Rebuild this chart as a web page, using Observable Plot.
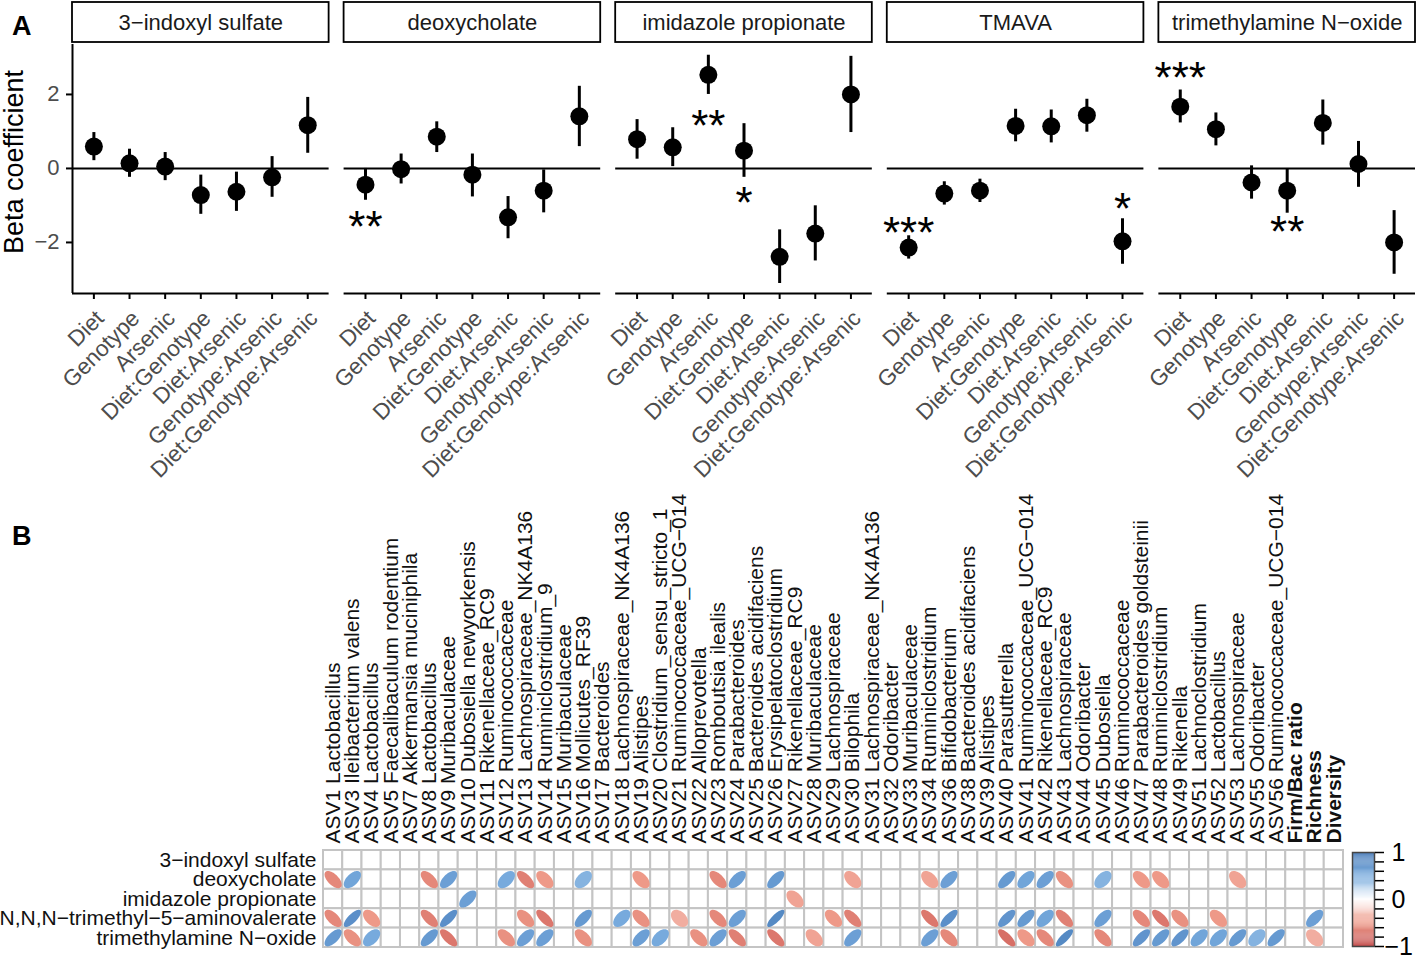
<!DOCTYPE html>
<html><head><meta charset="utf-8">
<script src="https://cdn.jsdelivr.net/npm/d3@7"></script>
<script src="https://cdn.jsdelivr.net/npm/@observablehq/plot@0.6"></script>
<style>
body{margin:0;background:#fff;font-family:"Liberation Sans",Arial,Helvetica,sans-serif;}
#wrap{position:relative;width:1417px;height:959px;overflow:hidden;background:#fff;}
.abs{position:absolute;}
.tag{position:absolute;font-weight:bold;font-size:27px;line-height:27px;color:#000;}
</style></head><body>
<div id="wrap">
  <div id="a" class="abs" style="left:0;top:0;width:1417px"></div>
  <div id="b" class="abs" style="left:0;top:480px;width:1417px"></div>
  <div id="cb" class="abs" style="left:1338px;top:839px;width:79px"></div>
  <div class="tag" style="left:12px;top:13px">A</div>
  <div class="tag" style="left:12px;top:523px">B</div>
</div>
<script>
// ---------------- Panel A data ----------------
const metabolites = ["3−indoxyl sulfate", "deoxycholate", "imidazole propionate", "TMAVA", "trimethylamine N−oxide"];
const terms = ["Diet", "Genotype", "Arsenic", "Diet:Genotype", "Diet:Arsenic", "Genotype:Arsenic", "Diet:Genotype:Arsenic"];

const estIndoxyl = [0.59, 0.14, 0.05, -0.72, -0.63, -0.24, 1.17];
const lowIndoxyl = [0.21, -0.24, -0.33, -1.24, -1.16, -0.78, 0.41];
const highIndoxyl = [0.97, 0.52, 0.43, -0.18, -0.10, 0.32, 1.92];

const estDeoxy = [-0.44, -0.02, 0.86, -0.17, -1.32, -0.60, 1.41];
const lowDeoxy = [-0.86, -0.42, 0.43, -0.77, -1.90, -1.20, 0.59];
const highDeoxy = [0.00, 0.39, 1.26, 0.39, -0.76, -0.04, 2.22];

const estImid = [0.79, 0.57, 2.53, 0.48, -2.39, -1.76, 2.00];
const lowImid = [0.25, 0.05, 2.00, -0.24, -3.11, -2.50, 0.97];
const highImid = [1.32, 1.10, 3.06, 1.21, -1.66, -1.01, 3.03];

const estTmava = [-2.14, -0.68, -0.60, 1.15, 1.14, 1.44, -1.97];
const lowTmava = [-2.45, -0.99, -0.92, 0.72, 0.69, 0.98, -2.59];
const highTmava = [-1.82, -0.36, -0.29, 1.60, 1.58, 1.87, -1.36];

const estTmao = [1.67, 1.06, -0.38, -0.60, 1.23, 0.12, -2.00];
const lowTmao = [1.23, 0.61, -0.83, -1.21, 0.63, -0.51, -2.86];
const highTmao = [2.12, 1.50, 0.07, -0.02, 1.85, 0.73, -1.14];

const starMetabolite = ["deoxycholate", "imidazole propionate", "imidazole propionate", "TMAVA", "TMAVA", "trimethylamine N−oxide", "trimethylamine N−oxide"];
const starTerm = ["Diet", "Arsenic", "Diet:Genotype", "Diet", "Diet:Genotype:Arsenic", "Diet", "Diet:Genotype"];
const starLabel = ["**", "**", "*", "***", "*", "***", "**"];
const starY = [-1.41, 1.30, -0.77, -1.58, -0.93, 2.62, -1.54];

// ---------------- Panel B data ----------------
const rowNames = ["3−indoxyl sulfate", "deoxycholate", "imidazole propionate", "N,N,N−trimethyl−5−aminovalerate", "trimethylamine N−oxide"];
const asvIds = ["ASV1","ASV3","ASV4","ASV5","ASV7","ASV8","ASV9","ASV10","ASV11","ASV12","ASV13","ASV14","ASV15","ASV16","ASV17","ASV18","ASV19","ASV20","ASV21","ASV22","ASV23","ASV24","ASV25","ASV26","ASV27","ASV28","ASV29","ASV30","ASV31","ASV32","ASV33","ASV34","ASV36","ASV38","ASV39","ASV40","ASV41","ASV42","ASV43","ASV44","ASV45","ASV46","ASV47","ASV48","ASV49","ASV51","ASV52","ASV53","ASV55","ASV56"];
const asvTaxa = ["Lactobacillus","Ileibacterium valens","Lactobacillus","Faecalibaculum rodentium","Akkermansia muciniphila","Lactobacillus","Muribaculaceae","Dubosiella newyorkensis","Rikenellaceae_RC9","Ruminococcaceae","Lachnospiraceae_NK4A136","Ruminiclostridium_9","Muribaculaceae","Mollicutes_RF39","Bacteroides","Lachnospiraceae_NK4A136","Alistipes","Clostridium_sensu_stricto_1","Ruminococcaceae_UCG−014","Alloprevotella","Romboutsia ilealis","Parabacteroides","Bacteroides acidifaciens","Erysipelatoclostridium","Rikenellaceae_RC9","Muribaculaceae","Lachnospiraceae","Bilophila","Lachnospiraceae_NK4A136","Odoribacter","Muribaculaceae","Ruminiclostridium","Bifidobacterium","Bacteroides acidifaciens","Alistipes","Parasutterella","Ruminococcaceae_UCG−014","Rikenellaceae_RC9","Lachnospiraceae","Odoribacter","Dubosiella","Ruminococcaceae","Parabacteroides goldsteinii","Ruminiclostridium","Rikenella","Lachnoclostridium","Lactobacillus","Lachnospiraceae","Odoribacter","Ruminococcaceae_UCG−014"];
const summaryIds = ["Firm/Bac ratio", "Richness", "Diversity"];

const corrIndoxyl = [];
const corrDeoxy = [["ASV1",-0.6],["ASV3",0.55],["ASV8",-0.6],["ASV9",0.6],["ASV12",0.5],["ASV13",-0.65],["ASV14",-0.5],["ASV16",0.45],["ASV19",-0.5],["ASV23",-0.6],["ASV24",0.6],["ASV26",0.65],["ASV30",-0.45],["ASV34",-0.45],["ASV36",0.6],["ASV40",0.65],["ASV41",0.55],["ASV42",0.6],["ASV43",-0.55],["ASV45",0.45],["ASV47",-0.5],["ASV48",-0.5],["ASV53",-0.45]];
const corrImid = [["ASV10",0.6],["ASV27",-0.45]];
const corrTmava = [["ASV1",-0.6],["ASV3",0.75],["ASV4",-0.5],["ASV8",-0.65],["ASV9",0.75],["ASV13",-0.55],["ASV14",-0.7],["ASV16",0.65],["ASV18",0.5],["ASV19",-0.55],["ASV21",-0.4],["ASV23",-0.6],["ASV24",0.6],["ASV26",0.8],["ASV29",-0.5],["ASV30",-0.65],["ASV34",-0.7],["ASV36",0.75],["ASV40",0.7],["ASV41",0.65],["ASV42",0.55],["ASV43",-0.65],["ASV45",0.6],["ASV47",-0.6],["ASV48",-0.7],["ASV49",-0.55],["ASV52",-0.5],["Richness",0.6]];
const corrTmao = [["ASV1",0.65],["ASV3",-0.55],["ASV4",0.5],["ASV8",0.65],["ASV9",-0.7],["ASV12",-0.55],["ASV13",0.6],["ASV14",0.6],["ASV16",-0.55],["ASV19",0.6],["ASV20",0.5],["ASV22",-0.55],["ASV23",0.6],["ASV24",-0.65],["ASV26",-0.7],["ASV28",-0.45],["ASV30",0.6],["ASV34",0.6],["ASV36",-0.6],["ASV40",-0.75],["ASV41",-0.5],["ASV42",-0.6],["ASV43",0.8],["ASV45",-0.6],["ASV47",0.7],["ASV48",0.65],["ASV49",0.7],["ASV51",0.55],["ASV52",0.55],["ASV53",0.65],["ASV55",0.45],["ASV56",0.65],["Richness",-0.4]];

const corrColors = ["#C04444", "#EE9988", "#FFFFFF", "#77AADD", "#3F74B4"];

// ---------------- build tables ----------------
const FONT = '"Liberation Sans", Arial, Helvetica, sans-serif';
const estAll = [estIndoxyl, estDeoxy, estImid, estTmava, estTmao];
const lowAll = [lowIndoxyl, lowDeoxy, lowImid, lowTmava, lowTmao];
const highAll = [highIndoxyl, highDeoxy, highImid, highTmava, highTmao];
const rowsA = [];
metabolites.forEach((m, mi) => terms.forEach((t, ti) => rowsA.push({m, t, xi: ti + 1, est: estAll[mi][ti], lo: lowAll[mi][ti], hi: highAll[mi][ti]})));
const starsA = starLabel.map((s, i) => ({m: starMetabolite[i], xi: terms.indexOf(starTerm[i]) + 1, label: s, y: starY[i]}));

const Y0 = -3.38, Y1 = 3.35, innerH = 249;
const ppu = innerH / (Y1 - Y0);
const stripTop = Y1 + 42 / ppu, stripBot = Y1 + 2 / ppu, stripMid = Y1 + 22 / ppu;
const fmtMinus = d => d < 0 ? "−" + Math.abs(d) : String(d);

const plotA = Plot.plot({
  width: 1417, height: 480,
  marginTop: 44, marginBottom: 187, marginLeft: 72, marginRight: 2,
  style: {fontFamily: FONT, background: "transparent", overflow: "visible", color: "black", maxWidth: "none"},
  fx: {domain: metabolites, paddingInner: 15 / 272, paddingOuter: 0, round: false, axis: null, label: null},
  x: {domain: [0.4, 7.6], axis: null},
  y: {domain: [Y0, Y1], axis: null},
  marks: [
    Plot.rect(metabolites, {fx: d => d, x1: 0.4, x2: 7.6, y1: stripBot, y2: stripTop, fill: "white", stroke: "black", strokeWidth: 1.8}),
    Plot.text(metabolites, {fx: d => d, x: 4, y: stripMid, text: d => d, fontSize: 22, fill: "#1a1a1a"}),
    Plot.ruleY([0], {stroke: "black", strokeWidth: 2}),
    Plot.ruleY([Y0], {stroke: "black", strokeWidth: 2}),
    Plot.ruleX([metabolites[0]], {fx: d => d, x: 0.4, stroke: "black", strokeWidth: 2}),
    Plot.axisX({ticks: [1, 2, 3, 4, 5, 6, 7], tickSize: 6, tickFormat: () => "", stroke: "black", strokeWidth: 2, label: null}),
    Plot.text(terms, {x: (d, i) => i + 1, text: d => d, frameAnchor: "bottom", dy: 15, dx: 0, rotate: -45, textAnchor: "end", lineAnchor: "top", fontSize: 22.5, fill: "#4d4d4d"}),
    Plot.axisY({ticks: [-2, 0, 2], tickSize: 6, tickPadding: 7, fontSize: 22, fill: "#4d4d4d", stroke: "black", strokeWidth: 2, label: null, tickFormat: fmtMinus}),
    Plot.text([metabolites[0]], {fx: d => d, frameAnchor: "left", dx: -58, dy: -7, rotate: -90, textAnchor: "middle", lineAnchor: "middle", text: () => "Beta coefficient", fontSize: 27, fill: "black"}),
    Plot.ruleX(rowsA, {fx: "m", x: "xi", y1: "lo", y2: "hi", stroke: "black", strokeWidth: 3}),
    Plot.dot(rowsA, {fx: "m", x: "xi", y: "est", r: 9, fill: "black", stroke: "none"}),
    Plot.text(starsA, {fx: "m", x: "xi", y: "y", text: "label", fontSize: 44, dy: 7, fill: "black"})
  ]
});
document.getElementById("a").appendChild(plotA);

// ---------------- Panel B ----------------
const colIds = asvIds.concat(summaryIds);
const asvLabels = asvIds.map((id, i) => ({id, label: id + " " + asvTaxa[i]}));
const gridCells = d3.cross(colIds, rowNames, (c, r) => ({c, r}));
const corrByRow = [corrIndoxyl, corrDeoxy, corrImid, corrTmava, corrTmao];
const corrData = [];
corrByRow.forEach((arr, ri) => arr.forEach(([c, v]) => corrData.push({r: rowNames[ri], c, v})));

function ellipseSymbol(rho) {
  const a = Math.acos(rho) / 2;
  return {
    draw(ctx, size) {
      const s = Math.sqrt(size / Math.PI), n = 72;
      for (let k = 0; k < n; k++) {
        const t = 2 * Math.PI * k / n;
        const x = s * Math.cos(t + a), y = -s * Math.cos(t - a);
        if (k === 0) ctx.moveTo(x, y); else ctx.lineTo(x, y);
      }
      ctx.closePath();
    }
  };
}
const colorScale = {type: "linear", domain: [-1, -0.5, 0, 0.5, 1], range: corrColors, interpolate: "rgb"};

const plotB = Plot.plot({
  width: 1417, height: 479,
  marginTop: 370, marginBottom: 12, marginLeft: 323, marginRight: 74,
  style: {fontFamily: FONT, background: "transparent", overflow: "visible", color: "black", maxWidth: "none"},
  x: {type: "band", domain: colIds, padding: 0, round: false, axis: null},
  y: {type: "band", domain: rowNames, padding: 0, round: false, axis: null},
  color: colorScale,
  marks: [
    Plot.cell(gridCells, {x: "c", y: "r", fill: "white", stroke: "#C4C4C4", strokeWidth: 2}),
    ...corrData.map(d => Plot.dot([d], {x: "c", y: "r", r: 8.6, fill: "v", stroke: "none", symbol: ellipseSymbol(d.v)})),
    Plot.text(rowNames, {y: d => d, text: d => d, frameAnchor: "left", dx: -7, textAnchor: "end", fontSize: 21, fill: "#111"}),
    Plot.text(asvLabels, {x: "id", text: "label", frameAnchor: "top", dy: -7, rotate: -90, textAnchor: "start", lineAnchor: "middle", fontSize: 21, fill: "#111"}),
    Plot.text(summaryIds, {x: d => d, text: d => d, frameAnchor: "top", dy: -7, rotate: -90, textAnchor: "start", lineAnchor: "middle", fontSize: 21, fontWeight: "bold", fill: "#111"})
  ]
});
document.getElementById("b").appendChild(plotB);

// ---------------- colour bar ----------------
const cbSteps = d3.range(100).map(i => ({lo: -1 + i * 0.02, hi: -1 + (i + 1) * 0.02, mid: -1 + (i + 0.5) * 0.02}));
const cbTicks = d3.range(-5, 6).map(i => i / 5);
const cb = Plot.plot({
  width: 79, height: 120,
  marginTop: 13, marginBottom: 13, marginLeft: 14, marginRight: 43,
  style: {fontFamily: FONT, background: "transparent", overflow: "visible", color: "black", maxWidth: "none"},
  x: {domain: [0, 1], axis: null},
  y: {domain: [-1, 1], axis: null},
  color: colorScale,
  marks: [
    Plot.rect(cbSteps, {x1: 0, x2: 1, y1: "lo", y2: "hi", fill: "mid"}),
    Plot.frame({stroke: "#444", strokeWidth: 1.5}),
    Plot.axisY({anchor: "right", ticks: cbTicks, tickSize: 9, tickPadding: 1, fontSize: 25, stroke: "black", strokeWidth: 1.5, fill: "black", label: null,
      tickFormat: d => Math.abs(d - 1) < 1e-9 ? "\u00a01" : Math.abs(d) < 1e-9 ? "\u00a00" : Math.abs(d + 1) < 1e-9 ? "−1" : ""})
  ]
});
document.getElementById("cb").appendChild(cb);
</script>
</body></html>
